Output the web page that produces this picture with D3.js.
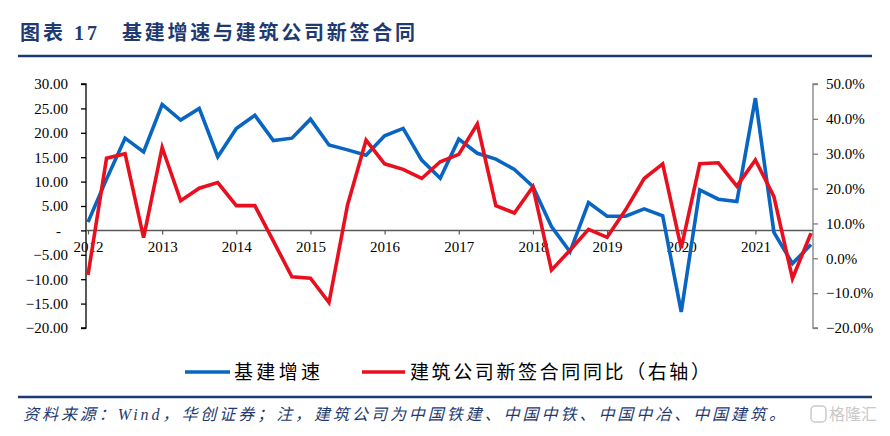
<!DOCTYPE html>
<html><head><meta charset="utf-8">
<script src="https://cdn.jsdelivr.net/npm/d3@7/dist/d3.min.js"></script>
<style>
html,body{margin:0;padding:0;background:#fff;}
svg{display:block;}
</style></head>
<body>
<svg id="chart" width="890" height="436"></svg>
<script>
// ---------- data ----------
const quarters = ["2012Q1","2012Q2","2012Q3","2012Q4","2013Q1","2013Q2","2013Q3","2013Q4",
  "2014Q1","2014Q2","2014Q3","2014Q4","2015Q1","2015Q2","2015Q3","2015Q4",
  "2016Q1","2016Q2","2016Q3","2016Q4","2017Q1","2017Q2","2017Q3","2017Q4",
  "2018Q1","2018Q2","2018Q3","2018Q4","2019Q1","2019Q2","2019Q3","2019Q4",
  "2020Q1","2020Q2","2020Q3","2020Q4","2021Q1","2021Q2","2021Q3","2021Q4"];
const infraGrowth = [1.7, 10.5, 18.9, 16.1, 25.8, 22.6, 25.0, 15.1, 20.9, 23.6, 18.4, 18.9,
  22.8, 17.5, 16.5, 15.4, 19.4, 20.9, 14.4, 10.7, 18.7, 15.8, 14.6, 12.5,
  9.0, 0.8, -4.4, 5.7, 2.9, 2.9, 4.4, 3.0, -16.7, 8.3, 6.4, 5.9, 27.1, -0.4, -6.8, -2.9];
const contractYoY = [-4.8, 28.7, 30.0, 5.9, 31.8, 16.5, 20.1, 21.7, 15.1, 15.1, 4.9, -5.3,
  -5.7, -12.7, 15.3, 33.9, 27.1, 25.5, 22.9, 27.7, 29.8, 38.5, 15.1, 13.0,
  20.5, -3.4, 2.3, 8.3, 6.0, 13.9, 22.9, 27.1, 2.9, 27.1, 27.4, 20.7, 28.2, 17.7, -5.8, 7.2];
const yearLabels = ["2012","2013","2014","2015","2016","2017","2018","2019","2020","2021"];
const leftTicks = [30, 25, 20, 15, 10, 5, 0, -5, -10, -15, -20];
const rightTicks = [50, 40, 30, 20, 10, 0, -10, -20];
const seriesNames = ["基建增速", "建筑公司新签合同同比（右轴）"];
const titleNum = "图表 17";
const titleText = "基建增速与建筑公司新签合同";
const sourceText = "资料来源：Wind，华创证券；注，建筑公司为中国铁建、中国中铁、中国中冶、中国建筑。";

// ---------- layout ----------
const navy = "#1f3a70";
const blue = "#0866c2";
const red = "#e8101e";
const serif = "'Liberation Serif','Times New Roman','Noto Sans CJK SC',serif";
const cjk = "'Liberation Serif','Noto Sans CJK SC',sans-serif";
const L = 86, R = 813, T = 84, B = 328;

const svg = d3.select("#chart");

// title
svg.append("text").attr("x", 20).attr("y", 40)
  .attr("font-family", cjk).attr("font-size", 20).attr("font-weight", "bold")
  .attr("fill", navy).attr("textLength", 77).attr("lengthAdjust", "spacing").text(titleNum);
svg.append("text").attr("x", 122).attr("y", 40)
  .attr("font-family", cjk).attr("font-size", 20).attr("font-weight", "bold")
  .attr("fill", navy).attr("textLength", 293).attr("lengthAdjust", "spacing").text(titleText);
svg.append("line").attr("x1", 18).attr("x2", 872).attr("y1", 56).attr("y2", 56)
  .attr("stroke", navy).attr("stroke-width", 2.5);

// scales
const x = d3.scaleLinear().domain([0, quarters.length - 1]).range([L + 2, R - 2]);
const yL = d3.scaleLinear().domain([-20, 30]).range([B, T]);
const yR = d3.scaleLinear().domain([-20, 50]).range([B, T]);

// left axis
const axL = svg.append("g").attr("transform", `translate(${L},0)`)
  .call(d3.axisLeft(yL).tickValues(leftTicks).tickSize(5).tickPadding(13)
    .tickFormat(d => d === 0 ? "-" : d3.format(".2f")(d)));
axL.select(".domain").attr("stroke", "#000").attr("stroke-width", 1.3).attr("d", `M-5,${T}H0V${B}H-5`);
axL.selectAll(".tick line").attr("stroke", "#000").attr("stroke-width", 1.3);
axL.selectAll(".tick text").attr("font-family", serif).attr("font-size", 15).attr("fill", "#000");
axL.selectAll(".tick").filter(d => d === 0).select("text").attr("x", -25);

// right axis
const axR = svg.append("g").attr("transform", `translate(${R},0)`)
  .call(d3.axisRight(yR).tickValues(rightTicks).tickSize(5).tickPadding(8)
    .tickFormat(d => d3.format(".1f")(d) + "%"));
axR.select(".domain").attr("stroke", "#7f7f7f").attr("stroke-width", 1.3).attr("d", `M5,${T}H0V${B}H5`);
axR.selectAll(".tick line").attr("stroke", "#7f7f7f").attr("stroke-width", 1.3);
axR.selectAll(".tick text").attr("font-family", serif).attr("font-size", 15).attr("fill", "#000");

// x axis along zero line
const yearIdx = yearLabels.map((y, i) => i * 4);
const axX = svg.append("g").attr("transform", `translate(0,${yL(0)})`)
  .call(d3.axisBottom(x).tickValues(yearIdx).tickSize(4).tickPadding(7)
    .tickFormat((d, i) => yearLabels[i]));
axX.select(".domain").attr("stroke", "#595959").attr("stroke-width", 1.5).attr("d", `M${L},0H${R}`);
axX.selectAll(".tick line").attr("stroke", "#595959").attr("stroke-width", 1.2);
axX.selectAll(".tick text").attr("font-family", serif).attr("font-size", 15).attr("fill", "#000");

// lines
const lineL = d3.line().x((d, i) => x(i)).y(d => yL(d));
const lineR = d3.line().x((d, i) => x(i)).y(d => yR(d));
svg.append("path").datum(infraGrowth).attr("d", lineL)
  .attr("fill", "none").attr("stroke", blue).attr("stroke-width", 3.6).attr("stroke-linejoin", "miter");
svg.append("path").datum(contractYoY).attr("d", lineR)
  .attr("fill", "none").attr("stroke", red).attr("stroke-width", 3.6).attr("stroke-linejoin", "miter");

// legend
const legend = [
  {name: seriesNames[0], color: blue, x1: 185, x2: 230, tx: 234, w: 86},
  {name: seriesNames[1], color: red, x1: 362, x2: 405, tx: 410, w: 300}
];
legend.forEach(l => {
  svg.append("line").attr("x1", l.x1).attr("x2", l.x2).attr("y1", 372).attr("y2", 372)
    .attr("stroke", l.color).attr("stroke-width", 3.6);
  svg.append("text").attr("x", l.tx).attr("y", 379).attr("font-family", cjk).attr("font-size", 19)
    .attr("fill", "#000").attr("textLength", l.w).attr("lengthAdjust", "spacing").text(l.name);
});

// bottom rule + source
svg.append("line").attr("x1", 18).attr("x2", 872).attr("y1", 397).attr("y2", 397)
  .attr("stroke", navy).attr("stroke-width", 2.5);
svg.append("text").attr("x", 23).attr("y", 420).attr("font-family", cjk).attr("font-size", 16)
  .attr("font-style", "italic").attr("fill", navy)
  .attr("textLength", 762).attr("lengthAdjust", "spacing").text(sourceText);

// watermark
svg.append("rect").attr("x", 811).attr("y", 406).attr("width", 15).attr("height", 16).attr("rx", 4)
  .attr("fill", "none").attr("stroke", "#c9c9c9").attr("stroke-width", 1.5);
svg.append("text").attr("x", 829).attr("y", 420).attr("font-family", cjk).attr("font-size", 16)
  .attr("fill", "#c9c9c9").text("格隆汇");
</script>
</body></html>
